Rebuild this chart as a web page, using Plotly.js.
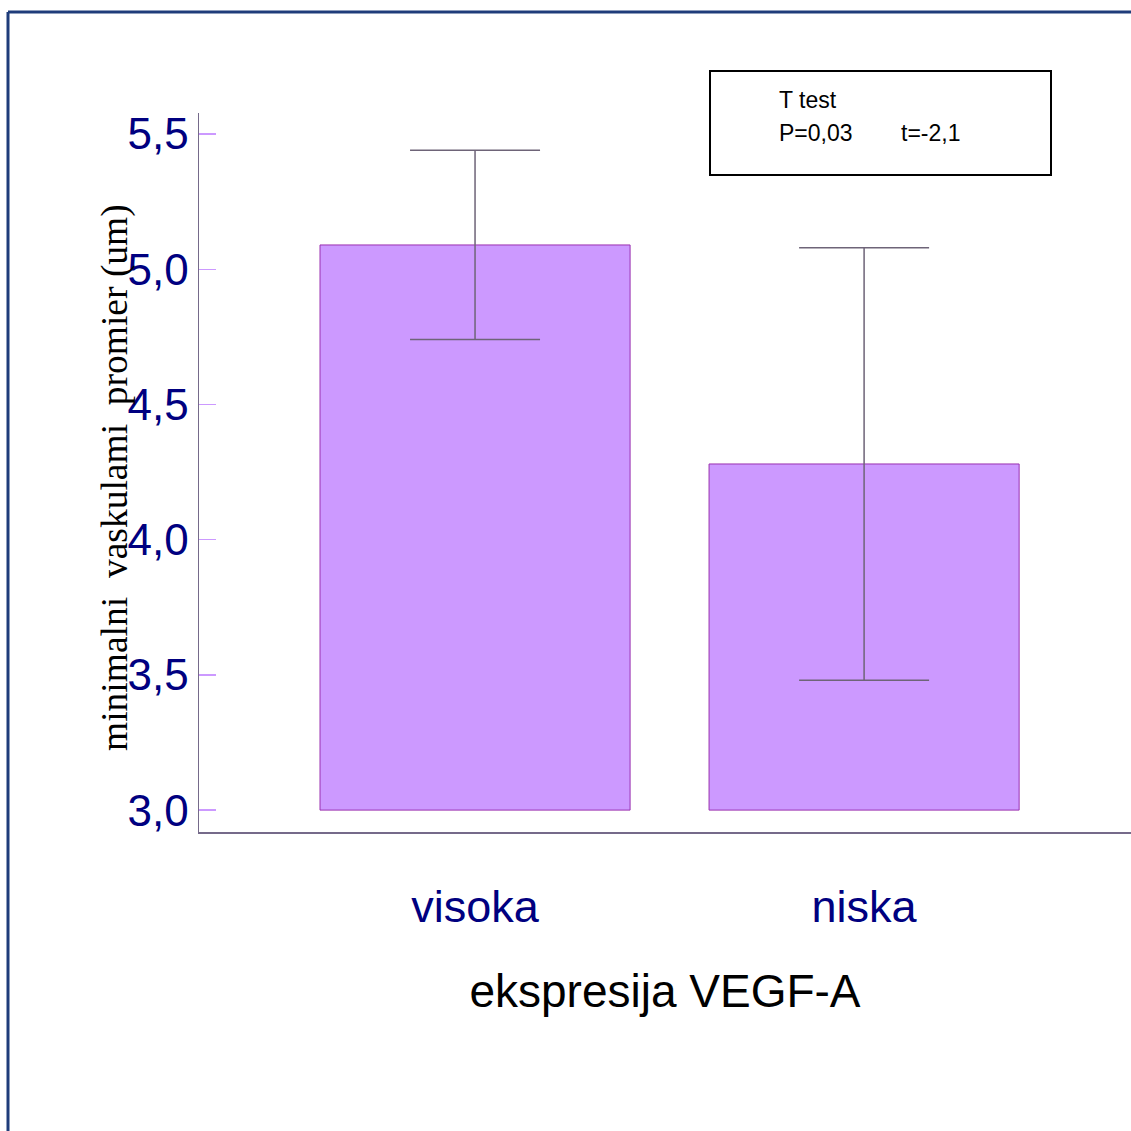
<!DOCTYPE html>
<html>
<head>
<meta charset="utf-8">
<script src="https://cdn.plot.ly/plotly-3.0.1.min.js"></script>
<style>
html,body{margin:0;padding:0;background:#fff;}
#chart{width:1131px;height:1131px;}
</style>
</head>
<body>
<div id="chart"></div>
<script>
const categories = ["visoka", "niska"];
const means = [5.09, 4.28];
const errors = [0.35, 0.80];
const barBase = 3.0;
const yTickVals = [3.0, 3.5, 4.0, 4.5, 5.0, 5.5];
const yTitle = "minimalni\u00a0 vaskulami\u00a0 promier (um)";
const xTitle = "ekspresija VEGF-A";
const testLines = ["T test", "P=0,03", "t=-2,1"];

const W = 1131, H = 1131;
const L = 199, R = 0, T = 113, B = 299;
const pw = W - L - R, ph = H - T - B;
const px = x => (x - L) / pw;
const py = y => (H - B - y) / ph;

const trace = {
  type: "bar",
  x: categories,
  y: means.map(v => v - barBase),
  base: barBase,
  width: 0.797,
  marker: {color: "#cc99ff", line: {color: "#9a30b0", width: 1}},
  error_y: {type: "data", array: errors, visible: true, color: "#6e6478", thickness: 1.5, width: 65},
  hoverinfo: "skip"
};

const layout = {
  width: W, height: H,
  margin: {l: L, r: R, t: T, b: B, pad: 0},
  paper_bgcolor: "#ffffff",
  plot_bgcolor: "#ffffff",
  showlegend: false,
  separators: ",.",
  xaxis: {
    range: [-0.7095, 1.686],
    showline: true, linecolor: "#756a8a", linewidth: 1.5,
    showgrid: false, zeroline: false,
    ticks: "", ticklabelstandoff: 34,
    tickfont: {family: "Liberation Sans, Arial, sans-serif", size: 45, color: "#000080"},
    title: {text: xTitle, standoff: 44, font: {family: "Liberation Sans, Arial, sans-serif", size: 46, color: "#000000"}},
    automargin: false, fixedrange: true
  },
  yaxis: {
    range: [2.919, 5.578],
    tickvals: yTickVals,
    tickformat: ".1f",
    showline: true, linecolor: "#756a8a", linewidth: 1.5,
    showgrid: false, zeroline: false,
    ticks: "inside", ticklen: 17, tickwidth: 1.5, tickcolor: "#cc99ff",
    tickfont: {family: "Liberation Sans, Arial, sans-serif", size: 44, color: "#000080"},
    automargin: false, fixedrange: true
  },
  shapes: [
    {type: "line", xref: "paper", yref: "paper", x0: px(8), x1: px(1140), y0: py(12), y1: py(12), line: {color: "#1f3c7a", width: 3}},
    {type: "line", xref: "paper", yref: "paper", x0: px(8), x1: px(8), y0: py(12), y1: py(1140), line: {color: "#1f3c7a", width: 3}},
    {type: "rect", xref: "paper", yref: "paper", x0: px(710), x1: px(1051), y0: py(175), y1: py(71), line: {color: "#000000", width: 2}, fillcolor: "rgba(0,0,0,0)"}
  ],
  annotations: [
    {xref: "paper", yref: "paper", x: px(115), y: py(478), text: yTitle, textangle: -90, showarrow: false,
     xanchor: "center", yanchor: "middle", font: {family: "Liberation Serif, Times New Roman, serif", size: 37.5, color: "#000000"}},
    {xref: "paper", yref: "paper", x: px(777), y: py(100), text: testLines[0], showarrow: false, xanchor: "left", yanchor: "middle",
     font: {family: "Liberation Sans, Arial, sans-serif", size: 23, color: "#000000"}},
    {xref: "paper", yref: "paper", x: px(777), y: py(133), text: testLines[1], showarrow: false, xanchor: "left", yanchor: "middle",
     font: {family: "Liberation Sans, Arial, sans-serif", size: 23, color: "#000000"}},
    {xref: "paper", yref: "paper", x: px(899), y: py(133), text: testLines[2], showarrow: false, xanchor: "left", yanchor: "middle",
     font: {family: "Liberation Sans, Arial, sans-serif", size: 23, color: "#000000"}}
  ]
};

Plotly.newPlot("chart", [trace], layout, {displayModeBar: false, staticPlot: true});
</script>
</body>
</html>
